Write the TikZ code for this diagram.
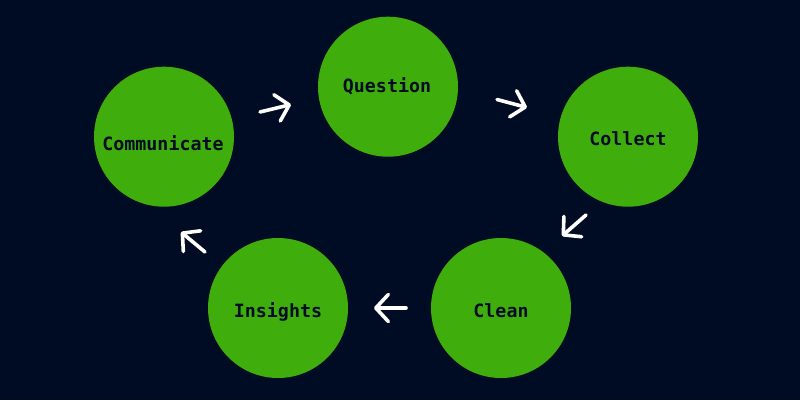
\documentclass[tikz,border=0pt]{standalone}
\usepackage{fontspec}
\setmonofont{DejaVu Sans Mono}
\usetikzlibrary{arrows.meta}
\definecolor{bg}{RGB}{0,11,36}
\definecolor{leaf}{RGB}{63,174,13}
\tikzset{
  stage/.style={circle,fill=leaf,minimum size=140pt,inner sep=0pt},
  lbl/.style={anchor=base,text=bg,font=\ttfamily\bfseries\fontsize{18.3}{20}\selectfont,inner sep=0pt},
  flow/.style={draw=white,line width=3.6pt,line cap=round,line join=round,
    -{Straight Barb[length=12.5pt,width=27pt,round]}}
}
\begin{document}
\begin{tikzpicture}[x=1pt,y=-1pt]
\fill[bg] (0,0) rectangle (800,400);
\useasboundingbox (0,0) rectangle (800,400);
\node[stage] (question) at (388,86.7) {};
\node[stage] (collect) at (628,136.7) {};
\node[stage] (clean) at (501,308) {};
\node[stage] (insights) at (278,308) {};
\node[stage] (communicate) at (164,136.7) {};
\node[lbl] (tq) at (387,92) {Question};
\node[lbl] (tco) at (628,145.3) {Collect};
\node[lbl] (tcl) at (501,317.3) {Clean};
\node[lbl] (ti) at (278,317.3) {Insights};
\node[lbl] (tcm) at (163,150) {Communicate};
\coordinate (a1s) at (260,112);
\coordinate (a1e) at (291,104.5);
\coordinate (a2s) at (497,99.5);
\coordinate (a2e) at (527,107.5);
\coordinate (a3s) at (586,215);
\coordinate (a3e) at (562,236);
\coordinate (a4s) at (406,308);
\coordinate (a4e) at (374,308);
\coordinate (a5s) at (205,252);
\coordinate (a5e) at (181,232);
\draw[flow] (a1s) -- (a1e);
\draw[flow] (a2s) -- (a2e);
\draw[flow] (a3s) -- (a3e);
\draw[flow] (a4s) -- (a4e);
\draw[flow] (a5s) -- (a5e);
\end{tikzpicture}
\end{document}
